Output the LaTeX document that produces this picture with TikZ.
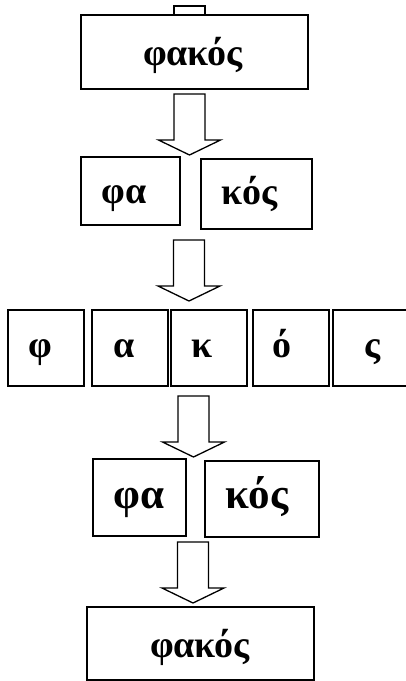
\documentclass[tikz,border=0pt]{standalone}
\usepackage{fontspec}
\setmainfont{Liberation Serif}
\begin{document}
\begin{tikzpicture}[x=1pt,y=1pt,
  box/.style={draw,line width=1.3pt,inner sep=0pt},
  txt/.style={inner sep=0pt,anchor=base,font=\fontsize{38}{40}\selectfont\bfseries},
  bigtxt/.style={inner sep=0pt,anchor=base,font=\fontsize{43}{45}\selectfont\bfseries},
  pics/blockarrow/.style={code={
    \draw[line width=1.3pt,fill=white,line join=miter] (-15.5,0) -- (-15.5,-46) -- (-31,-46) -- (0,-61)
      -- (31,-46) -- (15.5,-46) -- (15.5,0) -- cycle;}}]
\clip (0,0) rectangle (406,-681);
% top tail
\draw[line width=1.3pt] (174,-15) -- (174,-6) -- (205,-6) -- (205,-15);
% row 1
\node[box,minimum width=227,minimum height=74] (top) at (194.5,-52) {};
\node[txt] at (193,-65) {φακός};
\pic at (189.5,-94) {blockarrow};
% row 2
\node[box,minimum width=99,minimum height=68] (a1) at (130.5,-191) {};
\node[txt] at (124,-203) {φα};
\node[box,minimum width=111,minimum height=70] (b1) at (256.5,-194) {};
\node[txt] at (249.5,-204) {κός};
\pic at (189,-240) {blockarrow};
% row 3
\node[box,minimum width=76,minimum height=76] (l1) at (46,-348) {};
\node[txt] at (40,-357) {φ};
\node[box,minimum width=76,minimum height=76] (l2) at (130,-348) {};
\node[txt] at (124.5,-357) {α};
\node[box,minimum width=76,minimum height=76] (l3) at (209,-348) {};
\node[txt] at (202.5,-357) {κ};
\node[box,minimum width=76,minimum height=76] (l4) at (291,-348) {};
\node[txt] at (281.5,-357) {ό};
\node[box,minimum width=80,minimum height=76] (l5) at (373,-348) {};
\node[txt] at (373,-357) {ς};
\pic at (193.5,-396) {blockarrow};
% row 4
\node[box,minimum width=93,minimum height=77] (a2) at (139.5,-497.5) {};
\node[bigtxt] at (139,-508) {φα};
\node[box,minimum width=114,minimum height=76] (b2) at (262,-499) {};
\node[bigtxt] at (257,-508) {κός};
\pic at (193,-542) {blockarrow};
% row 5
\node[box,minimum width=227,minimum height=73] (bot) at (200.5,-643.5) {};
\node[txt] at (200,-657) {φακός};
\end{tikzpicture}
\end{document}
